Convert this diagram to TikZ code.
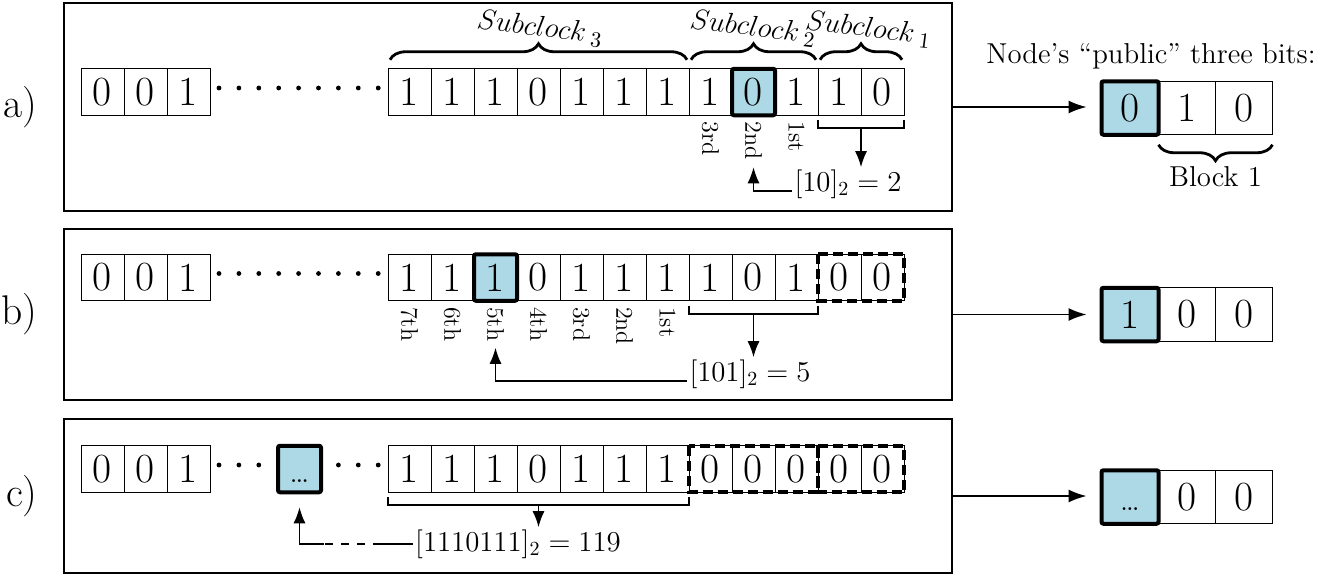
\documentclass[tikz,border=0pt]{standalone}
\usepackage[RGB]{xcolor}
\usetikzlibrary{decorations.pathreplacing,arrows.meta,positioning}
\definecolor{pick}{RGB}{173,216,230}
\tikzset{
  bit/.style={draw, line width=0.5pt, minimum width=21.5pt, minimum height=23.25pt, inner sep=0pt, outer sep=0pt, font=\huge},
  pickbit/.style={fill=pick, line width=2pt, rounded corners=1pt},
  hibit/.style={bit, pickbit},
  pubbit/.style={bit, minimum width=28.5pt, minimum height=26.75pt},
  panel/.style={draw, line width=1.2pt, inner sep=0pt, outer sep=0pt, minimum width=444pt},
  tag/.style={font=\huge, inner sep=0pt},
  ordinal/.style={rotate=-90, anchor=west, font=\large, inner sep=0pt},
  curly/.style={decorate, decoration={brace, amplitude=8pt}, line width=1.4pt},
  subclock/.style={midway, above=9pt, rotate=-7, font=\fontsize{15.5}{18}\selectfont, inner sep=0pt},
  bracket/.style={line width=0.8pt},
  pointer/.style={line width=0.8pt, -{Latex[length=8pt,width=6pt]}},
  feed/.style={line width=0.8pt, -{Latex[length=9pt,width=6.5pt]}, shorten >=7.5pt},
  padding/.style={line width=1.8pt, dash pattern=on 5pt off 2.5pt},
  value/.style={font=\Large, inner sep=1pt}
}
\newcommand{\headcells}[2]{
  \foreach \b [count=\i] in {0,0,1}{
    \node[bit] (#1\i) at (59.5+43*\i,#2) {\b};
  }
}
\newcommand{\gapdots}[3]{
  \foreach \d in {#2,...,#3}{
    \fill (219+19.9*\d,#1) circle (1.2pt);
  }
}
\newcommand{\bitrow}[4]{
  \foreach \b [count=\i] in {#4}{
    \ifnum\i=#3 \def\look{hibit}\else\def\look{bit}\fi
    \node[\look] (#1\i) at (366.5+43*\i,#2) {\b};
  }
}
\newcommand{\pubcells}[5]{
  \node[pubbit,pickbit] (#11) at (1130,#2) {#3};
  \node[pubbit, right=0pt of #11] (#12) {#4};
  \node[pubbit, right=0pt of #12] (#13) {#5};
}

\begin{document}
\begin{tikzpicture}[x=0.5pt,y=-0.5pt]
\useasboundingbox (0,0) rectangle (1333,578);
% panels
\node[panel, minimum height=104pt] (fa) at (508,107) {};
\node[panel, minimum height=85.5pt] (fb) at (508,314.5) {};
\node[panel, minimum height=77pt] (fc) at (508,496) {};
\node[tag, left=13pt of fa] (ta) {a)};
\node[tag, left=13pt of fb] (tb) {b)};
\node[tag, left=13pt of fc] (tc) {c)};

% a) subclocks
\headcells{ah}{92}
\gapdots{88}{0}{8}
\bitrow{a}{92}{9}{1,1,1,0,1,1,1,1,0,1,1,0}
\draw[curly] ([xshift=1pt,yshift=4.5pt]a1.north west) -- ([xshift=-1pt,yshift=4.5pt]a7.north east)
  node[subclock] (sc3) {$Subclock_{\;3}$};
\draw[curly] ([xshift=1pt,yshift=4.5pt]a8.north west) -- ([xshift=-1pt,yshift=4.5pt]a10.north east)
  node[subclock, xshift=-1pt] (sc2) {$Subclock_{\;2}$};
\draw[curly] ([xshift=1pt,yshift=4.5pt]a11.north west) -- ([xshift=-1pt,yshift=4.5pt]a12.north east)
  node[subclock, xshift=3pt] (sc1) {$Subclock_{\;1}$};
\foreach \o [count=\i from 8] in {3rd,2nd,1st}{
  \node[ordinal] (oa\i) at ([yshift=-3pt]a\i.south) {\o};
}
\draw[bracket] ([yshift=-2.5pt]a11.south west) -- ++(0,8) -| ([yshift=-2.5pt]a12.south east);
\coordinate (ka) at ([yshift=-6.5pt]a11.south east);
\node[value] (va) at (848,184) {$[10]_2=2$};
\draw[pointer] (ka) -- (ka |- va.north);
\draw[pointer] (va.base west) -| ([yshift=-26pt]a9.south);

% a) public bits
\pubcells{pa}{108}{0}{1}{0}
\draw[feed] (fa.east) -- (fa.east -| pa1.west);
\node[value] (pub) at (1151,56) {Node's ``public'' three bits:};
\draw[curly] ([yshift=-5pt]pa3.south east) -- ([yshift=-5pt]pa2.south west)
  node[midway, below=10pt, value, inner sep=0pt] (blk) {Block 1};

% b)
\headcells{bh}{277.5}
\gapdots{273.5}{0}{8}
\bitrow{b}{277.5}{3}{1,1,1,0,1,1,1,1,0,1,0,0}
\draw[padding] (b11.north west) rectangle (b12.south east);
\foreach \o [count=\i] in {7th,6th,5th,4th,3rd,2nd,1st}{
  \node[ordinal] (ob\i) at ([yshift=-3pt]b\i.south) {\o};
}
\draw[bracket] ([yshift=-2.5pt]b8.south west) -- ++(0,8) -| ([yshift=-2.5pt]b10.south east);
\coordinate (kb) at ([yshift=-6.5pt]b9.south);
\node[value] (vb) at (750,374) {$[101]_2=5$};
\draw[pointer] (kb) -- (kb |- vb.north);
\draw[pointer] (vb.base west) -| ([yshift=-23.5pt]b3.south);
\pubcells{pb}{314.5}{1}{0}{0}
\draw[feed] (fb.east) -- (fb.east -| pb1.west);

% c)
\headcells{ch}{469}
\gapdots{465}{0}{2}
\node[hibit] (cx) at (299.5,469) {{\LARGE\ldots}\vphantom{0}};
\gapdots{465}{6}{8}
\bitrow{c}{469}{0}{1,1,1,0,1,1,1,0,0,0,0,0}
\draw[padding] (c8.north west) rectangle (c10.south east);
\draw[padding] (c11.north west) rectangle (c12.south east);
\draw[bracket] ([yshift=-2.5pt]c1.south west) -- ++(0,8) -| ([yshift=-2.5pt]c7.south east);
\coordinate (kc) at ([yshift=-6.5pt]c4.south);
\node[value] (vc) at (518,544) {$[1110111]_2=119$};
\draw[pointer] (kc) -- (kc |- vc.north);
\draw[line width=0.8pt] (vc.west) -- ++(-32,0) coordinate (d1);
\draw[line width=0.8pt, dash pattern=on 4pt off 4pt] (d1) -- ++(-57,0) coordinate (d2);
\draw[pointer] (d2) -| ([yshift=-7.5pt]cx.south);
\pubcells{pc}{497}{{\LARGE\ldots}\vphantom{0}}{0}{0}
\draw[feed] (fc.east) -- (fc.east -| pc1.west);
\end{tikzpicture}
\end{document}
